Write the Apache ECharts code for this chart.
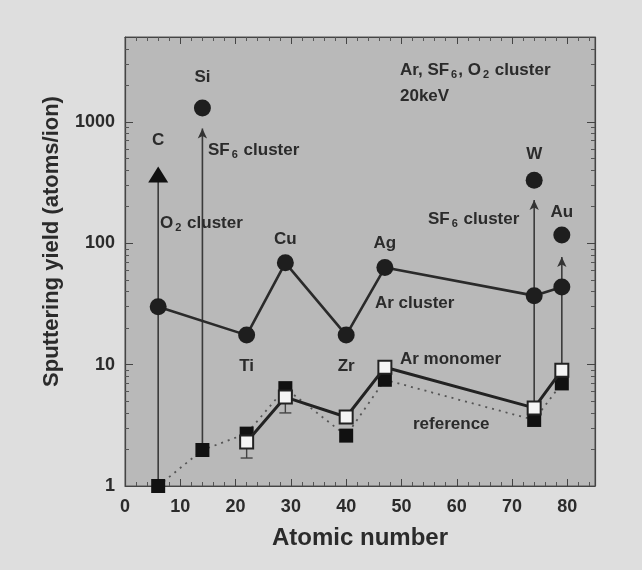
<!DOCTYPE html>
<html>
<head>
<meta charset="utf-8">
<script src="https://cdn.jsdelivr.net/npm/echarts@6/dist/echarts.min.js"></script>
<style>html,body{margin:0;padding:0;background:#dedede;}#chart{width:642px;height:570px;}</style>
</head>
<body>
<div id="chart"></div>
<script>
// ---- data ----
const xTicks = [0, 10, 20, 30, 40, 50, 60, 70, 80];
const yTicks = [1, 10, 100, 1000];

const clusterElements = ['C', 'Ti', 'Cu', 'Zr', 'Ag', 'W', 'Au'];
const clusterZ = [6, 22, 29, 40, 47, 74, 79];
const arCluster = [30, 17.5, 69, 17.5, 63, 37, 43.6];

const gasElements = ['C', 'Si', 'W', 'Au'];
const gasZ = [6, 14, 74, 79];
const gasCluster = [368, 1300, 330, 117];

const monomerZ = [22, 29, 40, 47, 74, 79];
const arMonomer = [2.3, 5.4, 3.7, 9.5, 4.4, 9.0];

const referenceZ = [6, 14, 22, 29, 40, 47, 74, 79];
const referenceYield = [1, 1.98, 2.7, 6.4, 2.6, 7.5, 3.5, 7.0];

const errZ = [22, 29];
const errLow = [1.7, 4.0];
const errHigh = [2.3, 5.4];

const arrowZ = [6, 14, 74, 79];
const arrowFrom = [1, 1.98, 3.5, 9.0];
const arrowTo = [368, 880, 227, 77];

// ---- styling ----
const FONT = 'Liberation Sans, Arial, sans-serif';
const TXT = '#2b2b2b';
const labelPlace = {
  C: ['top', 18], Ti: ['bottom', 14], Cu: ['top', 6], Zr: ['bottom', 14],
  Ag: ['top', 7], W: ['top', 9], Au: ['top', 6], Si: ['top', 14]
};
const clusterLabelled = ['Ti', 'Cu', 'Zr', 'Ag'];
function lbl(name, show) {
  if (!show) return { show: false };
  const p = labelPlace[name];
  return { show: true, formatter: name, position: p[0], distance: p[1],
    fontFamily: FONT, fontWeight: 'bold', fontSize: 17, color: TXT };
}

const chart = echarts.init(document.getElementById('chart'), null, { renderer: 'canvas' });

const series = [];
// arrows
arrowZ.forEach((z, i) => {
  const big = i === 0;
  series.push({
    type: 'line', silent: true, z: 2,
    lineStyle: { color: '#3a3a3a', width: 1.6 },
    data: [
      { value: [z, arrowFrom[i]], symbol: 'none' },
      { value: [z, arrowTo[i]], symbol: big ? 'triangle' : 'arrow',
        symbolSize: big ? [20, 16] : [7, 10],
        itemStyle: { color: big ? '#111' : '#333' },
        label: lbl(gasElements[i], big) }
    ]
  });
});
// reference (dotted, filled squares)
series.push({
  type: 'line', name: 'reference', z: 3,
  data: referenceZ.map((z, i) => [z, referenceYield[i]]),
  symbol: 'rect', symbolSize: 14,
  itemStyle: { color: '#111', opacity: 1 },
  lineStyle: { color: '#555', width: 1.8, type: [2, 5] }
});
// error bars
series.push({
  type: 'custom', z: 3,
  data: errZ.map((z, i) => [z, errLow[i], errHigh[i]]),
  renderItem: function (params, api) {
    const lo = api.coord([api.value(0), api.value(1)]);
    const hi = api.coord([api.value(0), api.value(2)]);
    const w = 6;
    return { type: 'group', children: [
      { type: 'line', shape: { x1: lo[0], y1: lo[1], x2: hi[0], y2: hi[1] }, style: { stroke: '#444', lineWidth: 1.4 } },
      { type: 'line', shape: { x1: lo[0] - w, y1: lo[1], x2: lo[0] + w, y2: lo[1] }, style: { stroke: '#444', lineWidth: 1.4 } }
    ]};
  }
});
// Ar monomer (open squares, solid)
series.push({
  type: 'line', name: 'Ar monomer', z: 4,
  data: monomerZ.map((z, i) => [z, arMonomer[i]]),
  symbol: 'rect', symbolSize: 13,
  itemStyle: { color: '#f4f4f4', borderColor: '#222', borderWidth: 2 },
  lineStyle: { color: '#222', width: 3 }
});
// Ar cluster (filled circles, solid)
series.push({
  type: 'line', name: 'Ar cluster', z: 5,
  data: clusterZ.map((z, i) => ({ value: [z, arCluster[i]], label: lbl(clusterElements[i], clusterLabelled.indexOf(clusterElements[i]) >= 0) })),
  symbol: 'circle', symbolSize: 17,
  itemStyle: { color: '#1e1e1e', opacity: 1 },
  lineStyle: { color: '#2a2a2a', width: 2.6 }
});
// SF6 / O2 cluster circles
series.push({
  type: 'scatter', name: 'gas cluster', z: 5,
  data: gasZ.map((z, i) => ({ value: [z, gasCluster[i]], label: lbl(gasElements[i], true) })).slice(1),
  symbol: 'circle', symbolSize: 17,
  itemStyle: { color: '#1e1e1e', opacity: 1 }
});

const rich = {
  n: { fontFamily: FONT, fontWeight: 'bold', fontSize: 17, color: TXT },
  s: { fontFamily: FONT, fontWeight: 'bold', fontSize: 11, color: TXT, padding: [8, 1, 0, 2] }
};
function ann(x, y, text) {
  return { type: 'text', left: x, top: y - 11, z: 10,
    style: { text: text, rich: rich, fontFamily: FONT, fontWeight: 'bold', fontSize: 17, fill: TXT, align: 'left' } };
}

const tickColor = '#444';
chart.setOption({
  backgroundColor: '#dedede',
  animation: false,
  grid: { left: 125, right: 47, top: 37, bottom: 84, show: true, backgroundColor: '#b9b9b9', borderColor: '#555', borderWidth: 1 },
  xAxis: [
    { type: 'value', min: 0, max: 85, interval: 10, position: 'bottom',
      name: 'Atomic number', nameLocation: 'middle', nameGap: 40,
      nameTextStyle: { fontFamily: FONT, fontWeight: 'bold', fontSize: 24, color: TXT },
      axisLine: { onZero: false, lineStyle: { color: '#444', width: 1.2 } },
      axisTick: { inside: true, length: 7, lineStyle: { color: tickColor } },
      minorTick: { show: true, splitNumber: 5, length: 4, lineStyle: { color: '#555' } },
      axisLabel: { margin: 12, fontFamily: FONT, fontWeight: 'bold', fontSize: 18, color: TXT,
        formatter: v => xTicks.indexOf(v) >= 0 ? String(v) : '' },
      splitLine: { show: false } },
    { type: 'value', min: 0, max: 85, interval: 10, position: 'top',
      axisLine: { onZero: false, lineStyle: { color: '#444', width: 1.2 } },
      axisTick: { inside: true, length: 7, lineStyle: { color: tickColor } },
      minorTick: { show: true, splitNumber: 5, length: 4, lineStyle: { color: '#555' } },
      axisLabel: { show: false }, splitLine: { show: false } }
  ],
  yAxis: [
    { type: 'log', logBase: 10, min: 1, max: 5000, position: 'left',
      name: 'Sputtering yield (atoms/ion)', nameLocation: 'middle', nameGap: 62,
      nameTextStyle: { fontFamily: FONT, fontWeight: 'bold', fontSize: 22, color: TXT, padding: [0, 0, 0, 40] },
      axisLine: { show: true, onZero: false, lineStyle: { color: '#444', width: 1.2 } },
      axisTick: { show: true, inside: true, length: 8, lineStyle: { color: tickColor } },
      minorTick: { show: true, splitNumber: 9, length: 4, lineStyle: { color: '#555' } },
      axisLabel: { margin: 10, fontFamily: FONT, fontWeight: 'bold', fontSize: 18, color: TXT,
        formatter: v => yTicks.some(t => Math.abs(t - v) < 1e-6 * t) ? String(Math.round(v)) : '' },
      splitLine: { show: false } },
    { type: 'log', logBase: 10, min: 1, max: 5000, position: 'right',
      axisLine: { show: true, onZero: false, lineStyle: { color: '#444', width: 1.2 } },
      axisTick: { show: true, inside: true, length: 8, lineStyle: { color: tickColor } },
      minorTick: { show: true, splitNumber: 9, length: 4, lineStyle: { color: '#555' } },
      axisLabel: { show: false }, splitLine: { show: false } }
  ],
  series: series,
  graphic: [
    ann(400, 73, '{n|Ar, SF}{s|6}{n|, O}{s|2}{n| cluster}'),
    ann(400, 99, '{n|20keV}'),
    ann(208, 153, '{n|SF}{s|6}{n| cluster}'),
    ann(160, 226, '{n|O}{s|2}{n| cluster}'),
    ann(428, 222, '{n|SF}{s|6}{n| cluster}'),
    ann(375, 306, '{n|Ar cluster}'),
    ann(400, 362, '{n|Ar monomer}'),
    ann(413, 427, '{n|reference}')
  ]
});
</script>
</body>
</html>
